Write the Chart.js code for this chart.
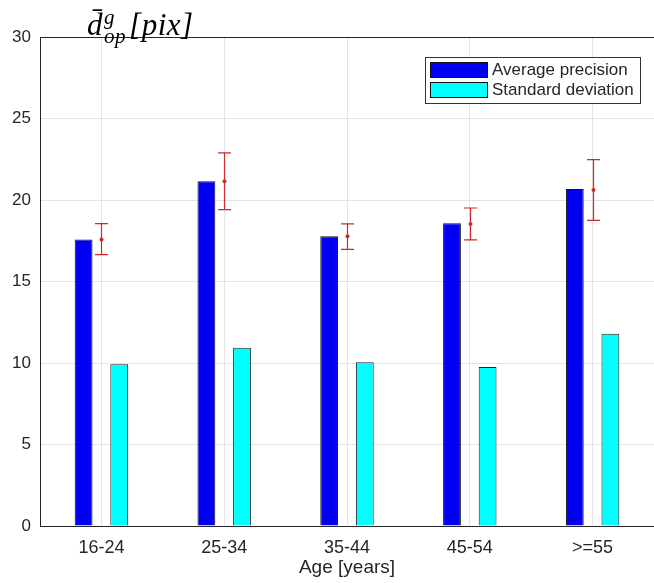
<!DOCTYPE html>
<html>
<head>
<meta charset="utf-8">
<script src="https://cdn.jsdelivr.net/npm/chart.js@4"></script>
<style>
    html, body { margin: 0; padding: 0; background: #fff; }
    #wrap { position: relative; width: 654px; height: 583px; }
    #ylab {
        position: absolute; left: 87px; top: 7px;
        font: italic 31px 'Liberation Serif', serif; color: #000;
        white-space: nowrap; letter-spacing: 0.5px;
    }
    #ylab .ss {
        display: inline-block; font-size: 0.68em; line-height: 0.9;
        vertical-align: -0.4em; margin-left: 1px; margin-right: 3px;
    }
    #ylab .ss span { display: block; }
</style>
</head>
<body>
<div id="wrap">
    <canvas id="precChart" width="654" height="583"></canvas>
    <div id="ylab">d&#772;<span class="ss"><span>g</span><span>op</span></span>[pix]</div>
</div>
<script>
const ageGroups = ['16-24', '25-34', '35-44', '45-54', '>=55'];
const avgPrecision = [17.57, 21.15, 17.77, 18.57, 20.68]; // blue bars
const stdDeviation = [9.93, 10.94, 10.04, 9.76, 11.8];   // cyan bars
const errMid = [17.57, 21.15, 17.77, 18.53, 20.62];      // red error bars
const errLow = [16.65, 19.41, 16.97, 17.55, 18.75];
const errHigh = [18.55, 22.89, 18.53, 19.51, 22.48];
const yTicks = [0, 5, 10, 15, 20, 25, 30];

const axisColor = '#262626';
const gridColor = '#e3e3e3';
const errColor = '#cc2b2b';

// red error bars centred on each age group
const errorBarPlugin = {
    id: 'errorBars',
    afterDatasetsDraw(chart) {
        const { ctx, scales: { x, y } } = chart;
        ctx.save();
        ctx.strokeStyle = errColor;
        ctx.fillStyle = errColor;
        ctx.lineWidth = 1.2;
        errMid.forEach((m, i) => {
            const px = Math.round(x.getPixelForValue(i)) + 0.5;
            const top = y.getPixelForValue(errHigh[i]);
            const bot = y.getPixelForValue(errLow[i]);
            ctx.beginPath();
            ctx.moveTo(px, top); ctx.lineTo(px, bot);
            ctx.moveTo(px - 6.5, top); ctx.lineTo(px + 6.5, top);
            ctx.moveTo(px - 6.5, bot); ctx.lineTo(px + 6.5, bot);
            ctx.stroke();
            ctx.beginPath();
            ctx.arc(px, y.getPixelForValue(m), 2, 0, Math.PI * 2);
            ctx.fill();
        });
        ctx.restore();
    }
};

// box around the axes and boxed legend in the upper right
const frameLegendPlugin = {
    id: 'frameLegend',
    afterDraw(chart) {
        const { ctx, chartArea } = chart;
        ctx.save();
        ctx.strokeStyle = axisColor;
        ctx.lineWidth = 1;
        ctx.beginPath();
        ctx.moveTo(chartArea.left, chartArea.top + 0.5);
        ctx.lineTo(chartArea.right, chartArea.top + 0.5);
        ctx.stroke();

        const lx = 425, ly = 57, lw = 215, lh = 46;
        ctx.fillStyle = '#fff';
        ctx.fillRect(lx, ly, lw, lh);
        ctx.strokeStyle = '#333';
        ctx.strokeRect(lx + 0.5, ly + 0.5, lw, lh);
        ctx.font = '17px "Liberation Sans", Arial, sans-serif';
        ctx.textBaseline = 'middle';
        chart.data.datasets.forEach((ds, i) => {
            const sy = ly + 5 + i * 20;
            ctx.fillStyle = ds.backgroundColor;
            ctx.fillRect(lx + 5, sy, 57, 15);
            ctx.strokeStyle = '#111';
            ctx.strokeRect(lx + 5.5, sy + 0.5, 57, 15);
            ctx.fillStyle = axisColor;
            ctx.fillText(ds.label, lx + 67, sy + 8);
        });
        ctx.restore();
    }
};

function drawPrecisionChart() {
    const ctx = document.getElementById('precChart').getContext('2d');
    new Chart(ctx, {
        type: 'bar',
        data: {
            labels: ageGroups,
            datasets: [
                {
                    label: 'Average precision',
                    data: avgPrecision,
                    backgroundColor: '#0000f5',
                    borderColor: '#111',
                    borderWidth: 1
                },
                {
                    label: 'Standard deviation',
                    data: stdDeviation,
                    backgroundColor: '#00ffff',
                    borderColor: '#222',
                    borderWidth: 1
                }
            ]
        },
        options: {
            responsive: false,
            animation: false,
            layout: {
                padding: { top: 37, right: -6, left: 0, bottom: 0 }
            },
            datasets: {
                bar: {
                    categoryPercentage: 0.58,
                    barPercentage: 0.5
                }
            },
            scales: {
                x: {
                    grid: { color: gridColor, offset: false, drawTicks: false },
                    border: { display: true, color: axisColor },
                    ticks: {
                        padding: 11,
                        color: axisColor,
                        font: { family: 'Liberation Sans', size: 18 }
                    },
                    title: {
                        display: true,
                        text: 'Age [years]',
                        color: axisColor,
                        padding: { top: 1 },
                        font: { family: 'Liberation Sans', size: 19 }
                    },
                    afterFit: scale => { scale.height = 57; }
                },
                y: {
                    min: 0,
                    max: 30,
                    afterBuildTicks: scale => {
                        scale.ticks = yTicks.map(v => ({ value: v }));
                    },
                    grid: { color: gridColor, drawTicks: false },
                    border: { display: true, color: axisColor },
                    ticks: {
                        padding: 9,
                        color: axisColor,
                        font: { family: 'Liberation Sans', size: 17 }
                    },
                    afterFit: scale => { scale.width = 40; }
                }
            },
            plugins: {
                legend: { display: false },
                tooltip: { enabled: false }
            }
        },
        plugins: [errorBarPlugin, frameLegendPlugin]
    });
}

drawPrecisionChart();
</script>
</body>
</html>
